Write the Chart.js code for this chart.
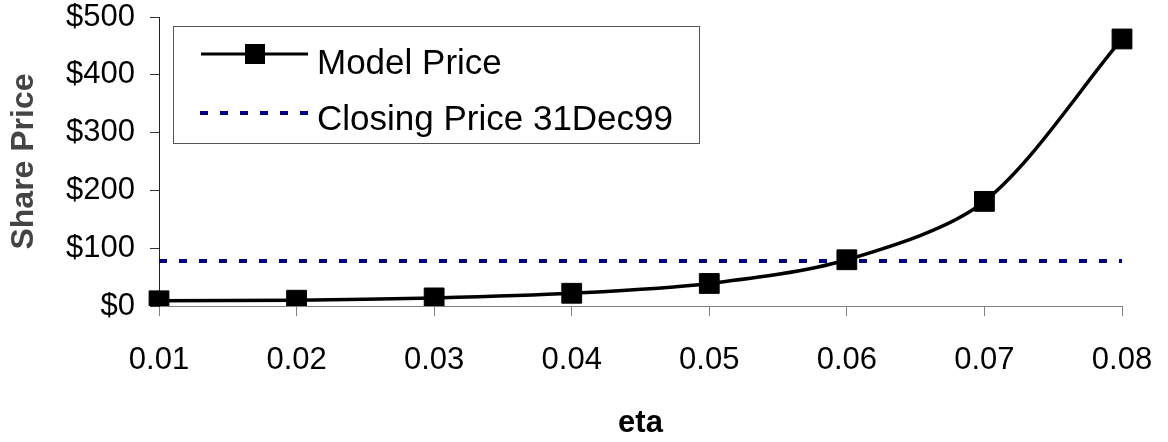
<!DOCTYPE html>
<html>
<head>
<meta charset="utf-8">
<script src="https://cdn.jsdelivr.net/npm/chart.js@4.4.0/dist/chart.umd.min.js"></script>
<style>
  html, body { margin: 0; padding: 0; background: #fff; }
  #wrap { width: 1168px; height: 442px; }
</style>
</head>
<body>
<div id="wrap"><canvas id="priceChart" width="1168" height="442"></canvas></div>
<script>
// data
const etaLabels = ['0.01', '0.02', '0.03', '0.04', '0.05', '0.06', '0.07', '0.08'];
const modelPrice = [9, 10, 14, 22, 39, 80, 181, 462];
const closingPrice = [78, 78, 78, 78, 78, 78, 78, 78];
const priceTicks = [0, 100, 200, 300, 400, 500];
const seriesNames = ['Model Price', 'Closing Price 31Dec99'];

const FONT = '"Liberation Sans", Arial, sans-serif';

// legend box drawn inside the plot, like the spreadsheet one
const boxLegend = {
  id: 'boxLegend',
  afterDraw(chart) {
    const ctx = chart.ctx;
    const ds = chart.data.datasets;
    ctx.save();
    ctx.fillStyle = '#fff';
    ctx.fillRect(173, 26, 526, 117);
    ctx.strokeStyle = '#555';
    ctx.lineWidth = 1;
    ctx.strokeRect(173.5, 26.5, 526, 117);

    // Model Price sample
    ctx.strokeStyle = ds[0].borderColor;
    ctx.lineWidth = 3;
    ctx.beginPath();
    ctx.moveTo(201, 54);
    ctx.lineTo(308, 54);
    ctx.stroke();
    ctx.fillStyle = '#000';
    ctx.fillRect(245, 44, 20, 20);

    // Closing price sample
    ctx.strokeStyle = ds[1].borderColor;
    ctx.lineWidth = 4;
    ctx.setLineDash(ds[1].borderDash);
    ctx.beginPath();
    ctx.moveTo(200, 113);
    ctx.lineTo(310, 113);
    ctx.stroke();
    ctx.setLineDash([]);

    ctx.fillStyle = '#000';
    ctx.font = '35px ' + FONT;
    ctx.textBaseline = 'alphabetic';
    ctx.textAlign = 'left';
    ctx.fillText(ds[0].label, 317, 74);
    ctx.fillText(ds[1].label, 317, 130);
    ctx.restore();
  }
};

const ctx = document.getElementById('priceChart').getContext('2d');
new Chart(ctx, {
  type: 'line',
  data: {
    labels: etaLabels,
    datasets: [
      {
        label: seriesNames[0],
        data: modelPrice,
        borderColor: '#000',
        borderWidth: 3.5,
        tension: 0.3,
        pointStyle: 'rect',
        pointRadius: 14,
        pointBackgroundColor: '#000',
        pointBorderColor: '#000',
        pointBorderWidth: 1,
        order: 1
      },
      {
        label: seriesNames[1],
        data: closingPrice,
        borderColor: '#000080',
        borderWidth: 4,
        borderDash: [8, 12],
        borderCapStyle: 'butt',
        pointRadius: 0,
        tension: 0,
        order: 2
      }
    ]
  },
  options: {
    responsive: false,
    animation: false,
    devicePixelRatio: 1,
    layout: { padding: { top: 17, right: 46, left: 0, bottom: 0 } },
    plugins: {
      legend: { display: false },
      tooltip: { enabled: false }
    },
    scales: {
      x: {
        offset: false,
        grid: { drawOnChartArea: false, drawTicks: true, tickLength: 10, color: '#808080' },
        border: { display: true, color: '#808080', width: 1 },
        ticks: { color: '#000', font: { family: FONT, size: 31 }, padding: 26, maxRotation: 0 },
        title: {
          display: true, text: 'eta', color: '#000',
          font: { family: FONT, size: 31, weight: 'bold' },
          padding: { top: 0, bottom: 0 }
        },
        afterFit(scale) {
          scale.height = 136;
          scale.paddingLeft = 0;
          scale.paddingRight = 0;
        }
      },
      y: {
        min: priceTicks[0],
        max: priceTicks[priceTicks.length - 1],
        afterBuildTicks(scale) { scale.ticks = priceTicks.map(v => ({ value: v })); },
        grid: { drawOnChartArea: false, drawTicks: true, tickLength: 9, color: '#333' },
        border: { display: true, color: '#222', width: 1 },
        ticks: {
          color: '#000', font: { family: FONT, size: 31 }, padding: 15,
          callback: v => '$' + v
        },
        title: {
          display: true, text: 'Share Price', color: '#444',
          font: { family: FONT, size: 32, weight: 'bold' },
          padding: { top: 5, bottom: 0 }
        },
        afterFit(scale) {
          scale.width = 159;
          scale.paddingTop = 0;
          scale.paddingBottom = 0;
        }
      }
    }
  },
  plugins: [boxLegend]
});
</script>
</body>
</html>
